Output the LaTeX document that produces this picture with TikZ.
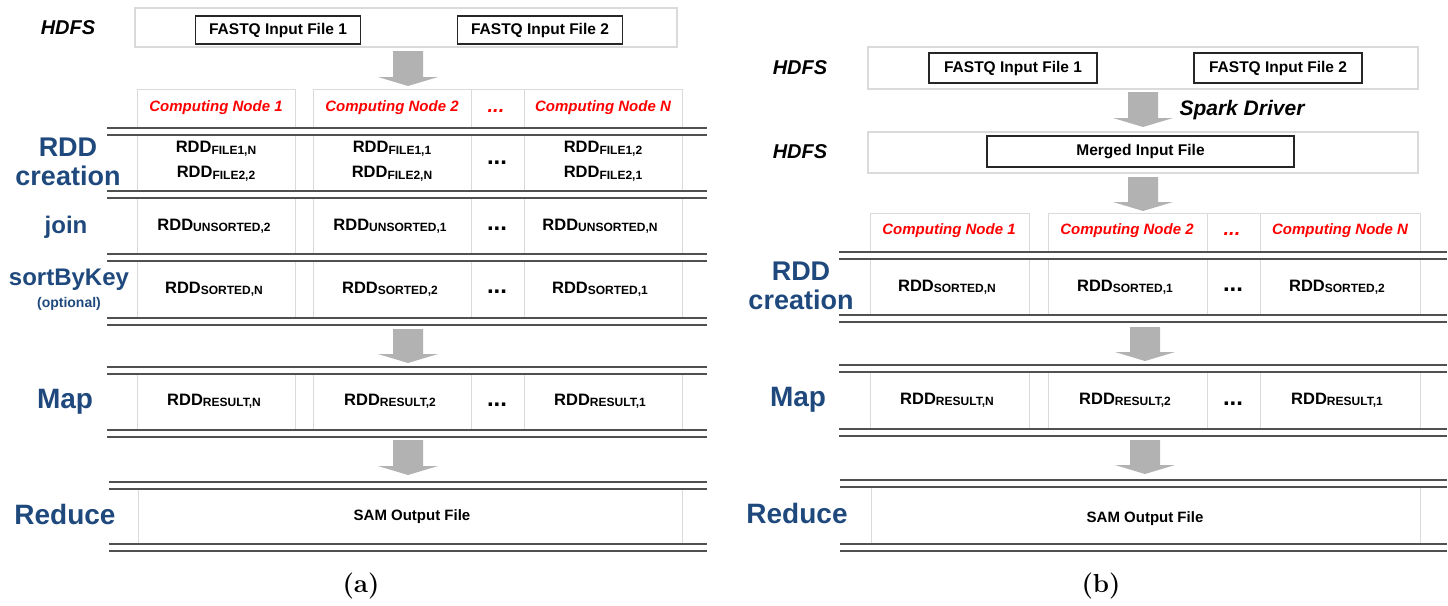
\documentclass[tikz,border=0pt]{standalone}
\usepackage{fontspec}
\newfontfamily\arial{Liberation Sans}
\definecolor{lblblue}{RGB}{31,73,125}
\definecolor{rulegray}{RGB}{80,80,80}
\definecolor{cellgray}{RGB}{218,218,218}
\definecolor{arrowgray}{RGB}{178,178,178}

% RDD name with its small-caps style index
\newcommand\rdd[1]{RDD\raisebox{-1.5pt}{\fontsize{12}{12}\selectfont #1}}
% pair of horizontal rules between stages: x-from, x-to, y
\newcommand\dblrule[3]{\draw[rules] (#1,#3) -- (#2,#3); \draw[rules] (#1,#3+7) -- (#2,#3+7);}
% thick block arrow pointing down: centre x, top y, tip y
\newcommand\blockdown[3]{\fill[arrowgray] (#1-15,#2) -- (#1+15,#2) -- (#1+15,#3-9) -- (#1+30,#3-9) -- (#1,#3) -- (#1-30,#3-9) -- (#1-15,#3-9) -- cycle;}

\tikzset{
  rules/.style={draw=rulegray, line width=2.2pt},
  cellline/.style={draw=cellgray, line width=1pt},
  filebox/.style={draw=black!85, line width=1.4pt, fill=white, inner sep=0pt,
    font=\arial\bfseries\fontsize{15.5}{18}\selectfont},
  hdfsbox/.style={draw=cellgray, line width=1.2pt},
  stagelbl/.style={font=\arial\bfseries\fontsize{27}{29}\selectfont, text=lblblue, align=center, inner sep=0pt},
  storelbl/.style={font=\arial\bfseries\itshape\fontsize{20}{24}\selectfont, inner sep=0pt},
  nodehead/.style={font=\arial\bfseries\itshape\fontsize{15}{18}\selectfont, text=red, inner sep=0pt},
  cell/.style={font=\arial\bfseries\fontsize{16.5}{25}\selectfont, align=center, inner sep=0pt},
  rowdots/.style={font=\arial\bfseries\fontsize{24}{24}\selectfont, inner sep=0pt},
  headdots/.style={font=\arial\bfseries\itshape\fontsize{20}{20}\selectfont, text=red, inner sep=0pt},
  caption/.style={font=\bfseries\fontsize{26}{30}\selectfont, inner sep=0pt},
}

\begin{document}
\begin{tikzpicture}[x=1pt,y=-1pt]
\useasboundingbox (0,0) rectangle (1448,605);

% ===================== (a) =====================
% HDFS with the two input files
\draw[hdfsbox] (135,8) rectangle (677,47);
\node[storelbl] (ahdfs) at (68,28) {HDFS};
\node[filebox, minimum width=165pt, minimum height=28pt] (af1) at (278,30) {FASTQ Input File 1};
\node[filebox, minimum width=165pt, minimum height=28pt] (af2) at (540,30) {FASTQ Input File 2};
\blockdown{408}{51}{86}

% computing node headers
\foreach \l/\r in {137/295,313/471,471/524,524/682}
  \draw[cellline] (\l,89) rectangle (\r,128);
\node[nodehead] (ah1) at (216,108) {Computing Node 1};
\node[nodehead] (ah2) at (392,108) {Computing Node 2};
\node[headdots] (ahd) at (496,111) {...};
\node[nodehead] (ahn) at (603,108) {Computing Node N};

% column borders of the stage rows
\foreach \t/\b in {135/191,198/254,261/318,374/430}
  \foreach \x in {137,295,313,471,524,682}
    \draw[cellline] (\x,\t) -- (\x,\b);
\draw[cellline] (138,489) -- (138,544);
\draw[cellline] (682,489) -- (682,544);

\dblrule{107}{707}{128}
\dblrule{107}{707}{191}
\dblrule{107}{707}{254}
\dblrule{107}{707}{318}
\dblrule{107}{707}{367}
\dblrule{107}{707}{430}
\dblrule{109}{707}{482}
\dblrule{109}{707}{544}

\blockdown{408}{329}{363}
\blockdown{408}{440}{475}

% stage labels
\node[stagelbl] (acreate) at (68,162) {RDD\\creation};
\node[stagelbl, font=\arial\bfseries\fontsize{24}{26}\selectfont] (ajoin) at (66,227) {join};
\node[stagelbl, font=\arial\bfseries\fontsize{24}{26}\selectfont] (asort) at (69,280) {sortByKey};
\node[stagelbl, font=\arial\bfseries\fontsize{14}{16}\selectfont] (aopt) at (69,304) {(optional)};
\node[stagelbl, font=\arial\bfseries\fontsize{28}{30}\selectfont] (amap) at (65,402) {Map};
\node[stagelbl, font=\arial\bfseries\fontsize{28}{30}\selectfont] (ared) at (65,514) {Reduce};

% RDD creation
\node[cell] (ac1a) at (216,149) {\rdd{FILE1,N}};
\node[cell] (ac1b) at (216,174) {\rdd{FILE2,2}};
\node[cell] (ac2a) at (392,149) {\rdd{FILE1,1}};
\node[cell] (ac2b) at (392,174) {\rdd{FILE2,N}};
\node[rowdots] (acd) at (497,163) {...};
\node[cell] (ac3a) at (603,149) {\rdd{FILE1,2}};
\node[cell] (ac3b) at (603,174) {\rdd{FILE2,1}};
% join
\node[cell] (aj1) at (214,226) {\rdd{UNSORTED,2}};
\node[cell] (aj2) at (390,226) {\rdd{UNSORTED,1}};
\node[rowdots] (ajd) at (497,229) {...};
\node[cell] (aj3) at (600,226) {\rdd{UNSORTED,N}};
% sortByKey
\node[cell] (as1) at (214,289) {\rdd{SORTED,N}};
\node[cell] (as2) at (390,289) {\rdd{SORTED,2}};
\node[rowdots] (asd) at (497,292) {...};
\node[cell] (as3) at (600,289) {\rdd{SORTED,1}};
% Map
\node[cell] (am1) at (214,401) {\rdd{RESULT,N}};
\node[cell] (am2) at (390,401) {\rdd{RESULT,2}};
\node[rowdots] (amd) at (497,405) {...};
\node[cell] (am3) at (600,401) {\rdd{RESULT,1}};
% Reduce
\node[cell, font=\arial\bfseries\fontsize{15}{18}\selectfont] (asam) at (412,517) {SAM Output File};

\node[caption] (capa) at (361,586) {(a)};

% ===================== (b) =====================
\draw[hdfsbox] (868,47) rectangle (1418,89);
\node[storelbl] (bhdfs) at (800,68) {HDFS};
\node[filebox, minimum width=168pt, minimum height=30pt] (bf1) at (1013,68) {FASTQ Input File 1};
\node[filebox, minimum width=168pt, minimum height=30pt] (bf2) at (1278,68) {FASTQ Input File 2};
\blockdown{1143}{92}{127}
\node[storelbl, font=\arial\bfseries\itshape\fontsize{21}{24}\selectfont] (bdrv) at (1242,110) {Spark Driver};

\draw[hdfsbox] (868,132) rectangle (1418,173);
\node[storelbl] (bhdfs2) at (800,152) {HDFS};
\node[filebox, minimum width=307pt, minimum height=31pt] (bmerge) at (1140.5,151.5) {Merged Input File};
\blockdown{1143}{177}{211}

\foreach \l/\r in {870/1029,1048/1207,1207/1260,1260/1420}
  \draw[cellline] (\l,213) rectangle (\r,252);
\node[nodehead] (bh1) at (949,231) {Computing Node 1};
\node[nodehead] (bh2) at (1127,231) {Computing Node 2};
\node[headdots] (bhd) at (1232,234) {...};
\node[nodehead] (bhn) at (1340,231) {Computing Node N};

\foreach \t/\b in {259/315,372/429}
  \foreach \x in {870,1029,1048,1207,1260,1420}
    \draw[cellline] (\x,\t) -- (\x,\b);
\draw[cellline] (871,487) -- (871,544);
\draw[cellline] (1420,487) -- (1420,544);

\dblrule{839}{1447}{252}
\dblrule{839}{1447}{315}
\dblrule{839}{1447}{365}
\dblrule{839}{1447}{429}
\dblrule{840}{1447}{480}
\dblrule{840}{1447}{544}

\blockdown{1145}{327}{361}
\blockdown{1145}{440}{474}

\node[stagelbl] (bcreate) at (801,286) {RDD\\creation};
\node[stagelbl, font=\arial\bfseries\fontsize{28}{30}\selectfont] (bmap) at (798,400) {Map};
\node[stagelbl, font=\arial\bfseries\fontsize{28}{30}\selectfont] (bred) at (797,513) {Reduce};

\node[cell] (bc1) at (947,287) {\rdd{SORTED,N}};
\node[cell] (bc2) at (1125,287) {\rdd{SORTED,1}};
\node[rowdots] (bcd) at (1233,290) {...};
\node[cell] (bc3) at (1337,287) {\rdd{SORTED,2}};

\node[cell] (bm1) at (947,400) {\rdd{RESULT,N}};
\node[cell] (bm2) at (1125,400) {\rdd{RESULT,2}};
\node[rowdots] (bmd) at (1233,404) {...};
\node[cell] (bm3) at (1337,400) {\rdd{RESULT,1}};

\node[cell, font=\arial\bfseries\fontsize{15}{18}\selectfont] (bsam) at (1145,519) {SAM Output File};

\node[caption] (capb) at (1101,586) {(b)};
\end{tikzpicture}
\end{document}
